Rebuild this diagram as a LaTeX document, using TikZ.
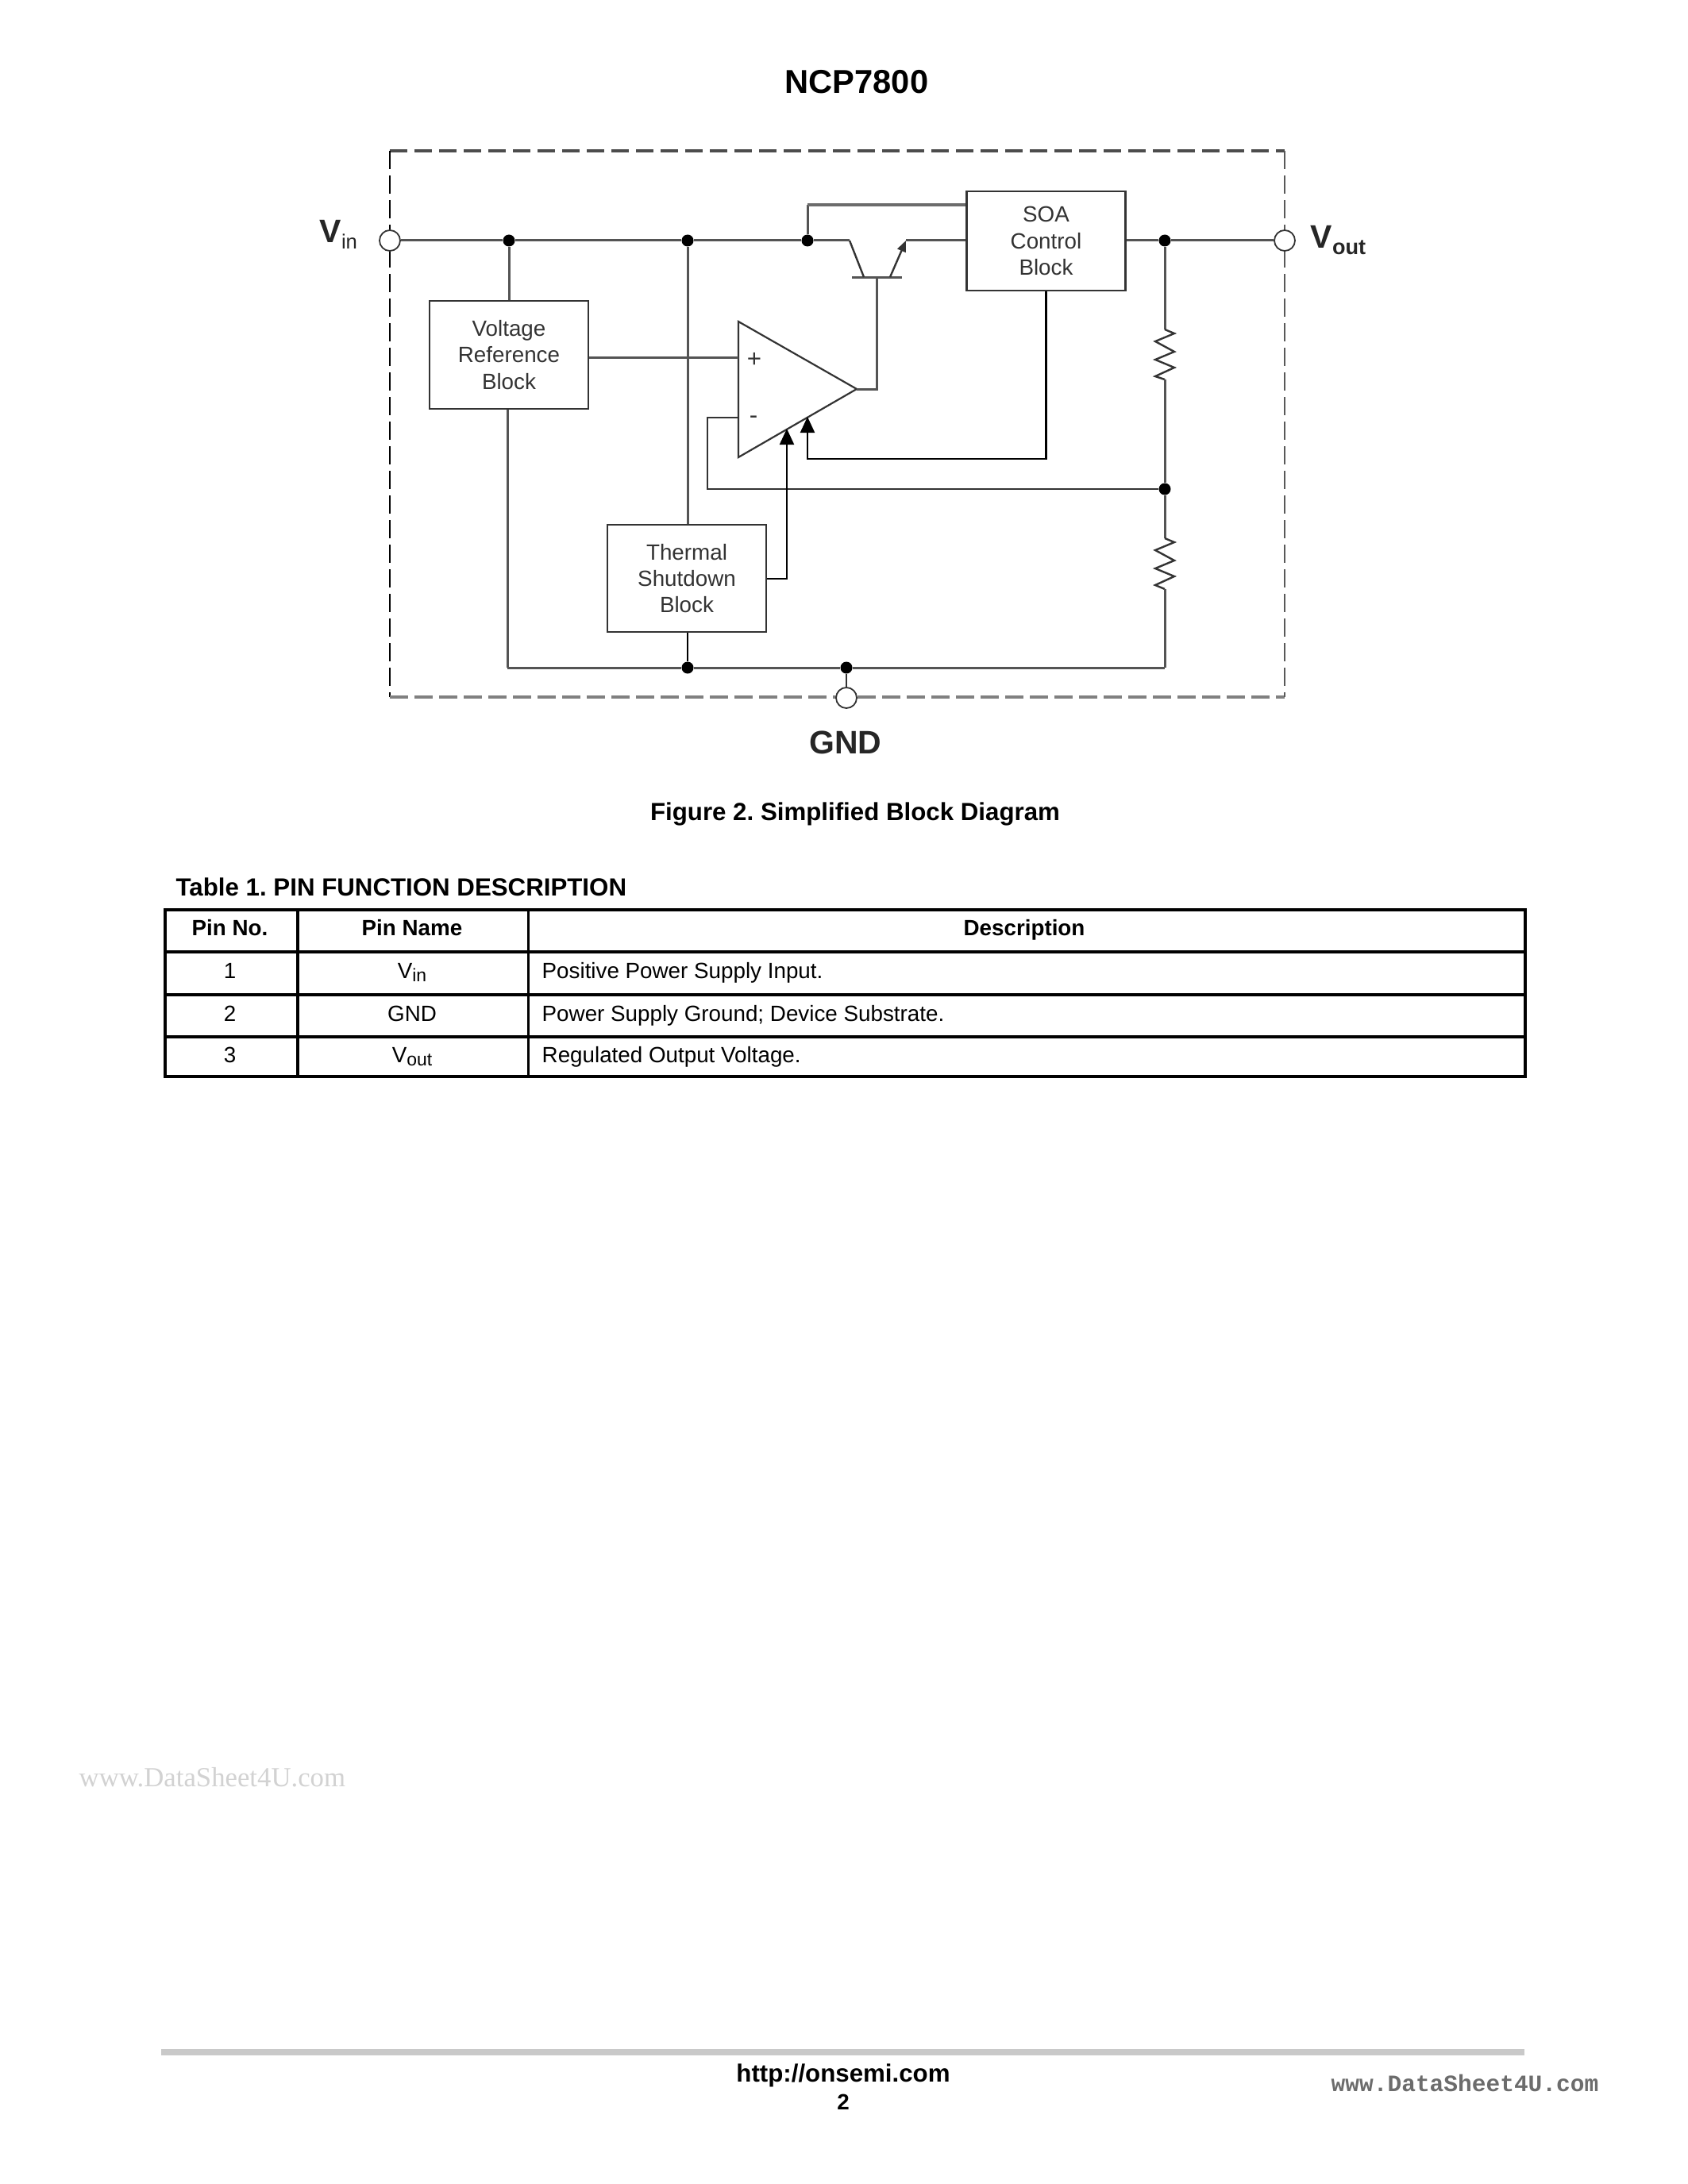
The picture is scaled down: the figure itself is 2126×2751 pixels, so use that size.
\documentclass[tikz,border=0pt]{standalone}
\usepackage{fontspec}
\setmainfont{Liberation Sans}
\newfontfamily\wmserif{Liberation Serif}
\newfontfamily\wmmono{Liberation Mono}
\usetikzlibrary{arrows.meta}
\definecolor{wire}{gray}{0.2}
\definecolor{softwire}{gray}{0.33}
\definecolor{blocktext}{gray}{0.2}
\def\pxu{0.2879pt}
\newcommand\pinsub[1]{\raisebox{-0.32ex}{\fontsize{6.6}{7}\selectfont #1}}
\tikzset{
  x=\pxu, y=-\pxu,
  wireline/.style={draw=wire, line width=2.4*\pxu},
  softline/.style={draw=softwire, line width=3*\pxu},
  blackline/.style={draw=black, line width=2.2*\pxu},
  thickgrey/.style={draw=gray!85!black, line width=4.2*\pxu},
  block/.style={draw=wire, line width=2.8*\pxu, fill=white, align=center, text=blocktext,
    inner sep=0pt, font=\fontsize{8}{9.55}\selectfont},
  junction/.style={circle, fill=black, draw=none, inner sep=0pt, minimum size=15*\pxu},
  pin/.style={circle, draw=wire, fill=white, line width=1.8*\pxu, inner sep=0pt, minimum size=26*\pxu},
  opamp/.style={draw=wire, line width=2.2*\pxu, fill=white, line join=miter},
  bigarrow/.style={-{Triangle[length=20*\pxu,width=18*\pxu]}},
  smallarrow/.style={-{Triangle[length=14*\pxu,width=11*\pxu]}},
  dashtop/.style={draw=gray!60!black, line width=4*\pxu, dash pattern=on 22*\pxu off 9*\pxu},
  dashleft/.style={draw=black, line width=1.6*\pxu, dash pattern=on 23*\pxu off 8*\pxu},
  dashbottom/.style={draw=gray!100!black, line width=4.2*\pxu, dash pattern=on 23*\pxu off 8*\pxu},
  dashright/.style={draw=gray!70!black, line width=1.6*\pxu, dash pattern=on 23*\pxu off 8*\pxu},
  pinlabel/.style={anchor=base west, inner sep=0pt, font=\fontsize{11.8}{13}\bfseries\selectfont, text=black!85},
  boldtext/.style={anchor=base, inner sep=0pt, font=\fontsize{9}{10}\bfseries\selectfont},
  headtext/.style={anchor=base, inner sep=0pt, font=\fontsize{8}{10}\bfseries\selectfont},
  celltext/.style={anchor=base, inner sep=0pt, font=\fontsize{8}{10}\selectfont},
  desctext/.style={anchor=base west, inner sep=0pt, font=\fontsize{8}{10}\selectfont},
  tablerule/.style={draw=black, line width=3.4*\pxu},
}
\begin{document}
\begin{tikzpicture}
\useasboundingbox (0,0) rectangle (2126,2751);
\fill[white] (0,0) rectangle (2126,2751);

% page texts
\node[boldtext, font=\fontsize{12}{14}\bfseries\selectfont] (title) at (1079,118) {NCP7800};
\node[boldtext] (caption) at (1077,1033) {\frenchspacing Figure 2. Simplified Block Diagram};
\node[boldtext, anchor=base west] (tabletitle) at (221,1128) {\frenchspacing Table 1. PIN FUNCTION DESCRIPTION};

% frame corners
\coordinate (ftl) at (491,190);
\coordinate (ftr) at (1618,190);
\coordinate (fbl) at (491,878);
\coordinate (fbr) at (1618,878);
\draw[dashtop] (ftl) -- (ftr);
\draw[dashleft] (ftl) -- (fbl);
\draw[dashbottom] (fbl) -- (fbr);
\draw[dashright] (ftr) -- (fbr);

% blocks
\node[block, minimum width=200*\pxu, minimum height=136*\pxu] (vref) at (641,447) {Voltage\\Reference\\Block};
\node[block, minimum width=200*\pxu, minimum height=125*\pxu] (soa) at (1317.5,303.5) {SOA\\Control\\Block};
\node[block, minimum width=200*\pxu, minimum height=135*\pxu] (tsd) at (865,728.5) {Thermal\\Shutdown\\Block};

% pins and junctions
\node[pin] (vin) at (491,303) {};
\node[pin] (vout) at (1618,303) {};
\node[pin] (gnd) at (1066,879) {};
\node[junction] (j1) at (641,303) {};
\node[junction] (j2) at (866,303) {};
\node[junction] (j3) at (1017,303) {};
\node[junction] (j4) at (1467,303) {};
\node[junction] (j5) at (1467,616) {};
\node[junction] (j6) at (866,841) {};
\node[junction] (j7) at (1066,841) {};

% op amp
\coordinate (oatop) at (930,405);
\coordinate (oabot) at (930,576);
\coordinate (oatip) at (1079,490);
\coordinate (oaplus) at (930,451);
\coordinate (oaminus) at (930,526);
\coordinate (oasoa) at (1017,525);
\coordinate (oatsd) at (991,540);
\draw[opamp] (oatop) -- (oatip) -- (oabot) -- cycle;
\node[font=\fontsize{9}{10}\selectfont, inner sep=0pt, text=blocktext] (plus) at (950,453) {+};
\node[font=\fontsize{9}{10}\selectfont, inner sep=0pt, text=blocktext] (minus) at (949,529) {-};

% transistor
\coordinate (qc) at (1070,303);
\coordinate (qcb) at (1088,349);
\coordinate (qeb) at (1121,349);
\coordinate (qe) at (1141,303);
\coordinate (qbl) at (1073,350);
\coordinate (qbr) at (1136,350);
\coordinate (qb) at (1104,350);
\draw[softline] (qbl) -- (qbr);
\draw[wireline] (qc) -- (qcb);
\draw[wireline, smallarrow] (qeb) -- (qe);

% main rail
\draw[softline] (vin) -- (j1);
\draw[softline] (j1) -- (j2);
\draw[softline] (j2) -- (j3);
\draw[softline] (j3) -- (qc);
\draw[softline] (qe) -- (soa.west |- qe);
\draw[softline] (soa.east |- j4) -- (j4);
\draw[softline] (j4) -- (vout);

% SOA link
\coordinate (soalink) at (1017,258);
\draw[softline] (j3) -- (soalink);
\draw[thickgrey] (soalink) -- (soa.west |- soalink);

% wires
\draw[softline] (j1) -- (j1 |- vref.north);
\draw[softline] (oaplus) -- (vref.east |- oaplus);
\draw[softline] (j2) -- (j2 |- tsd.north);
\draw[softline] (oatip) -- (qb |- oatip) -- (qb);
\draw[blackline, bigarrow] (soa.south) |- (1017,578) -- (oasoa);
\draw[wireline] (oaminus) -- (891,526) |- (j5);
\draw[blackline, bigarrow] (tsd.east |- 0,729) -| (oatsd);
\draw[blackline] (tsd.south -| j6) -- (j6);
\draw[wireline] (j7) -- (gnd);

% resistors and ground rail
\coordinate (r1t) at (1467,415);
\coordinate (r1b) at (1467,478);
\coordinate (r2t) at (1467,678);
\coordinate (r2b) at (1467,742);
\coordinate (railr) at (1467,841);
\coordinate (raill) at (639,841);
\draw[softline] (j4) -- (r1t);
\draw[wireline, line join=miter] (r1t) -- ++(12,5) -- ++(-24,10) -- ++(24,13) -- ++(-24,10) -- ++(24,10) -- ++(-24,11) -- (r1b);
\draw[softline] (r1b) -- (j5);
\draw[softline] (j5) -- (r2t);
\draw[wireline, line join=miter] (r2t) -- ++(12,5) -- ++(-24,10) -- ++(24,13) -- ++(-24,10) -- ++(24,10) -- ++(-24,11) -- (r2b);
\draw[softline] (r2b) -- (railr);
\draw[softline] (vref.south -| raill) -- (raill);
\draw[softline] (raill) -- (j6) -- (j7) -- (railr);

% pin labels
\node[pinlabel] (vinlabel) at (402,306) {V\raisebox{-0.35ex}{\fontsize{7.4}{8}\mdseries\selectfont in}};
\node[pinlabel] (voutlabel) at (1650,313) {V\raisebox{-0.35ex}{\fontsize{7.8}{9}\bfseries\selectfont out}};
\node[pinlabel, anchor=base] (gndlabel) at (1065,949) {GND};

% table
\coordinate (t1) at (208,1146);
\coordinate (t2) at (1921,1146);
\coordinate (b1) at (208,1356);
\coordinate (b2) at (1921,1356);
\draw[tablerule] (t1) rectangle (b2);
\draw[tablerule] (375,1146) -- (375,1356);
\draw[tablerule] (665.5,1146) -- (665.5,1356);
\draw[tablerule] (208,1199) -- (1921,1199);
\draw[tablerule] (208,1253) -- (1921,1253);
\draw[tablerule] (208,1306) -- (1921,1306);
\node[headtext] (h1) at (289.5,1178) {Pin No.};
\node[headtext] (h2) at (519,1178) {Pin Name};
\node[headtext] (h3) at (1290,1178) {Description};
\node[celltext] (c11) at (289.5,1232) {1};
\node[celltext] (c12) at (519,1232) {V\pinsub{in}};
\node[desctext] (c13) at (682,1232) {Positive Power Supply Input.};
\node[celltext] (c21) at (289.5,1286) {2};
\node[celltext] (c22) at (519,1286) {GND};
\node[desctext] (c23) at (682,1286) {Power Supply Ground; Device Substrate.};
\node[celltext] (c31) at (289.5,1338) {3};
\node[celltext] (c32) at (519,1338) {V\pinsub{out}};
\node[desctext] (c33) at (682,1338) {Regulated Output Voltage.};

% footer
\fill[gray!42] (203,2581) rectangle (1920,2589);
\node[boldtext] (url) at (1062,2622) {http://onsemi.com};
\node[boldtext, font=\fontsize{8}{9}\bfseries\selectfont] (pageno) at (1062,2657) {2};
\node[anchor=base west, inner sep=0pt, text=gray!85!black, font=\fontsize{8.5}{9}\bfseries\wmmono\selectfont] (wmright) at (1676,2634) {www.DataSheet4U.com};
\node[anchor=base west, inner sep=0pt, text=gray!35, font=\fontsize{10}{11}\wmserif\selectfont] (wmleft) at (99,2250) {www.DataSheet4U.com};
\end{tikzpicture}
\end{document}
